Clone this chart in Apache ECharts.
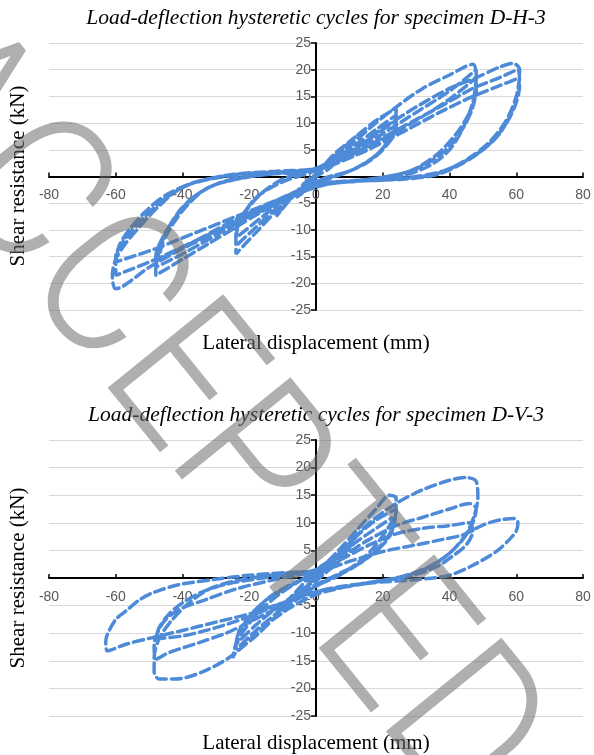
<!DOCTYPE html>
<html>
<head>
<meta charset="utf-8">
<title>Load-deflection hysteretic cycles</title>
<script src="https://cdn.jsdelivr.net/npm/echarts@6.0.0/dist/echarts.min.js"></script>
<style>
  html, body { margin: 0; padding: 0; background: #fff; }
  #chart { width: 594px; height: 755px; }
</style>
</head>
<body>
<div id="chart"></div>
<script>
// 坐标轴范围
const xMin = -80, xMax = 80, xStep = 20;
const yMin = -25, yMax = 25, yStep = 5;

const titleH3 = 'Load-deflection hysteretic cycles for specimen D-H-3';
const titleV3 = 'Load-deflection hysteretic cycles for specimen D-V-3';
const xName = 'Lateral displacement (mm)';
const yName = 'Shear resistance (kN)';

// D-H-3 各级循环 [位移 mm, 荷载 kN]
const dh3Cycle6 = [[0,0],[3,2.5],[6,4],[4,3],[2,1.5],[0,0.5],[-3,-1.5],[-6,-4],[-4,-3],[-2,-1.5],[0,-0.3]];
const dh3Cycle12 = [[3,2.5],[6,4.5],[9,6],[12,7.5],[10,6],[7,3.5],[4,1.5],[0,0],[-4,-2],[-8,-4.5],[-12,-7.5],[-10,-6],[-6,-3],[-3,-1],[0,0.5]];
const dh3Cycle24 = [
  [6,4],[12,7.5],[18,10.5],[24,12.8],[24,10],[21,6],[16,3],[10,1],[4,0],[0,-1],[-6,-3],[-12,-6.5],[-18,-10.5],[-24,-14.5],[-24,-11],[-21,-6.5],[-16,-3],[-10,-0.5],[-4,0.8],[0,1.5],
  [6,3.5],[12,6],[18,8.8],[24,11.5],[24,9],[20,5],[15,2.5],[8,0.5],[0,-1.2],[-6,-3],[-12,-6],[-18,-9.5],[-24,-13],[-24,-10],[-20,-5.5],[-14,-2],[-6,0.5],[0,1.5],
  [8,3.5],[16,7],[24,10.5],[23,8],[18,4],[10,1],[0,-1],[-8,-3.5],[-16,-7.5],[-24,-11.5],[-23,-8.5],[-18,-4],[-10,-1],[0,1.2]
];
const dh3Cycle48 = [
  [8,4.5],[16,9],[24,13],[32,16.5],[40,19],[47,21],[48,19],[47,14],[44,9],[40,5],[34,2],[26,0.2],[16,-0.6],[6,-1.2],[0,-2],[-8,-4],[-16,-6.5],[-24,-9.5],[-32,-12.5],[-40,-15.5],[-48,-18.5],[-48,-15],[-46,-11.5],[-42,-7.5],[-37,-4],[-30,-1.5],[-20,0],[-10,0.8],[0,1.5],
  [10,4],[20,8],[30,12],[40,16],[48,20],[48,17],[47,13],[44,9],[39,5],[32,2],[24,0.3],[12,-0.8],[0,-1.8],[-10,-4.5],[-20,-7.5],[-30,-11],[-40,-14.5],[-48,-17],[-47,-14],[-45,-10.5],[-41,-6.5],[-36,-3.5],[-28,-1],[-16,0.3],[0,1.2],
  [10,3.5],[20,7],[30,10.5],[40,14.5],[48,18.5],[48,16],[46,12],[42,8],[36,4],[28,1],[16,-0.5],[0,-1.5],[-12,-4.5],[-24,-8],[-36,-12],[-47,-15.5],[-46,-12.5],[-43,-9],[-38,-5],[-32,-2],[-22,-0.3],[-10,0.7],[0,1.3]
];
const dh3Cycle60 = [
  [10,4.5],[20,9],[30,13],[40,16.5],[48,18.5],[55,20.5],[59,21.2],[61,20],[60.5,16],[58.5,12],[55,8],[50,5],[44,2.5],[36,0.3],[26,-0.5],[14,-0.8],[0,-1.5],[-10,-4],[-20,-7],[-30,-10.5],[-40,-13.5],[-50,-17],[-60,-21],[-61,-18.5],[-60,-15.5],[-57,-12.5],[-53,-9.5],[-47,-5.5],[-40,-2],[-30,-0.3],[-16,0.6],[0,1.3],
  [12,4.5],[25,9],[37,13],[47,16.5],[55,18.5],[60.5,20],[61,17],[59.5,13],[56,9],[51,5.5],[45,3],[36,0.5],[24,-0.5],[10,-1],[0,-1.8],[-12,-5],[-24,-8.5],[-36,-12],[-48,-15.5],[-60,-18.5],[-60,-15],[-57,-11.5],[-52,-8],[-46,-4.5],[-38,-1.5],[-26,0.3],[-12,1],[0,1.5],
  [12,4],[25,8],[37,12],[47,15],[55,17],[61,18.5],[60,15],[57,10.5],[52,6.5],[46,3.5],[38,1],[26,-0.3],[10,-0.8],[0,-1.5],[-12,-4.5],[-24,-7.5],[-36,-10.5],[-48,-13.5],[-60,-16],[-59,-13],[-56,-10],[-51,-6.5],[-45,-3.5],[-36,-1],[-22,0.5],[0,1]
];

// D-V-3 各级循环
const dv3Cycle6 = [[0,0],[3,2],[6,4],[4,2.5],[2,1],[0,0],[-3,-1.5],[-6,-3.5],[-4,-2.5],[-2,-1],[0,0.2]];
const dv3Cycle12 = [[4,2.5],[8,5],[12,7.5],[10,5.5],[6,2.5],[3,1],[0,-0.5],[-4,-2],[-8,-4],[-12,-6.5],[-10,-5],[-6,-2.5],[-3,-0.5],[0,1]];
const dv3Cycle24 = [
  [6,4.5],[12,8.5],[18,12.5],[22,15],[24,14.5],[24,12],[22,9.5],[18,6],[13,3],[7,0.5],[0,-1.5],[-6,-4],[-12,-7],[-18,-10.5],[-24,-13.5],[-25,-14.5],[-24,-12],[-21,-9],[-16,-5.5],[-10,-2.5],[-4,-0.2],[0,1.5],
  [6,4],[12,7.5],[18,10.5],[24,12.5],[23.5,10],[21,7],[16,4],[10,1.5],[3,-0.5],[0,-1.5],[-6,-3.5],[-12,-6.5],[-18,-9.5],[-24,-13],[-23.5,-10.5],[-20,-7],[-15,-4],[-8,-1.5],[0,1],
  [6,3.5],[12,6.5],[18,9],[23,11],[23,9],[20,6],[14,3],[7,0.8],[0,-1.2],[-6,-3],[-12,-5.5],[-18,-8.5],[-24,-12],[-23,-9.5],[-19,-6.5],[-14,-3.5],[-7,-1],[0,0.8]
];
const dv3Cycle48 = [
  [8,5],[16,10],[24,13.5],[32,16],[40,17.7],[45,18.2],[48,17.5],[48.5,14.5],[47.5,11.5],[45,8],[40,4.5],[33,1.8],[24,0],[14,-1],[6,-2],[0,-3],[-8,-5.5],[-16,-9],[-25,-14],[-34,-17],[-42,-18.3],[-47,-18.3],[-48.5,-17],[-48.5,-14.5],[-47,-11],[-43,-7.5],[-38,-4.5],[-32,-2],[-24,-0.5],[-14,0.5],[-6,1],[0,1.5],
  [8,4],[16,7],[24,9.5],[32,11],[40,12.5],[46,13.5],[48,12.5],[47,10],[44,7],[40,4.5],[34,2],[26,0.3],[16,-0.8],[6,-1.8],[0,-2.5],[-10,-5],[-20,-8],[-27,-10],[-35,-11.7],[-44,-13.5],[-48,-14.7],[-48.5,-12],[-47,-9.3],[-45,-7.5],[-41,-5.7],[-33,-3.9],[-24,-2],[-14,-0.5],[-6,0.5],[0,1],
  [8,3.5],[16,6],[24,8],[32,9],[40,9.5],[46,10],[47,8.5],[45,6],[41,4],[36,2],[29,0.5],[20,-0.5],[10,-1.5],[0,-2.5],[-10,-4.5],[-20,-7],[-30,-9],[-40,-10.5],[-48,-11],[-47,-9],[-44,-6.5],[-40,-4.5],[-34,-2.5],[-26,-1],[-16,0],[-6,0.8],[0,1]
];
const dv3Cycle60 = [
  [10,3],[20,4.8],[30,6],[38,7],[44,7.8],[50,9.6],[55,10.5],[59.5,10.8],[60.5,10],[60,8.5],[58,7],[54,4.8],[47,2.3],[40,0.5],[30,-0.3],[18,-0.8],[8,-1.5],[0,-2.5],[-10,-4.5],[-20,-6.5],[-30,-8],[-40,-9.5],[-49,-10.8],[-57,-12],[-62.5,-13.2],[-63,-11.5],[-62.5,-10.2],[-60,-7.5],[-57,-6],[-53,-4],[-49,-2.7],[-41,-1.2],[-31,-0.3],[-20,0.5],[-8,1],[0,1.2]
];

const dh3Path = [].concat(dh3Cycle6, dh3Cycle12, dh3Cycle24, dh3Cycle48, dh3Cycle60);
const dv3Path = [].concat(dv3Cycle6, dv3Cycle12, dv3Cycle24, dv3Cycle48, dv3Cycle60);

const chart = echarts.init(document.getElementById('chart'));

const gridW = 534;
const gridH = [267, 276];
const labelStyle = { fontFamily: '"Liberation Sans", Arial', fontSize: 14, color: '#595959' };

// 把坐标轴平移到零点（含刻度标签）
function makeXAxis(gridIndex) {
  return {
    type: 'value', gridIndex: gridIndex, min: xMin, max: xMax, interval: xStep,
    position: 'bottom', offset: -gridH[gridIndex] / 2,
    axisLine: { onZero: false, lineStyle: { color: '#000', width: 2 } },
    axisTick: { show: true, inside: true, length: 4, lineStyle: { color: '#000', width: 1.5 } },
    axisLabel: Object.assign({ margin: 12 }, labelStyle),
    splitLine: { show: false }
  };
}
function makeYAxis(gridIndex) {
  return {
    type: 'value', gridIndex: gridIndex, min: yMin, max: yMax, interval: yStep,
    position: 'left', offset: -gridW / 2,
    axisLine: { onZero: false, lineStyle: { color: '#000', width: 2 } },
    axisTick: { show: true, length: 5, lineStyle: { color: '#000', width: 1.5 } },
    axisLabel: Object.assign({ margin: 5 }, labelStyle),
    splitLine: { show: true, lineStyle: { color: '#d9d9d9', width: 1 } }
  };
}
function makeSeries(index, data) {
  return {
    type: 'line', xAxisIndex: index, yAxisIndex: index, data: data,
    showSymbol: false, smooth: 0.3, silent: true,
    lineStyle: { color: '#4d8ad8', width: 3.5, type: [10, 5], cap: 'round' }
  };
}

const serif = '"Liberation Serif", "Times New Roman", serif';

const option = {
  animation: false,
  grid: [
    { left: 49, top: 43, width: gridW, height: gridH[0] },
    { left: 49, top: 440, width: gridW, height: gridH[1] }
  ],
  xAxis: [makeXAxis(0), makeXAxis(1)],
  yAxis: [makeYAxis(0), makeYAxis(1)],
  series: [makeSeries(0, dh3Path), makeSeries(1, dv3Path)],
  graphic: [
    { type: 'text', x: 316, y: 18, style: { text: titleH3, font: 'italic 21.5px ' + serif, fill: '#000', align: 'center', verticalAlign: 'middle' } },
    { type: 'text', x: 316, y: 415, style: { text: titleV3, font: 'italic 21.5px ' + serif, fill: '#000', align: 'center', verticalAlign: 'middle' } },
    { type: 'text', x: 316, y: 343, style: { text: xName, font: '21px ' + serif, fill: '#000', align: 'center', verticalAlign: 'middle' } },
    { type: 'text', x: 316, y: 743, style: { text: xName, font: '21px ' + serif, fill: '#000', align: 'center', verticalAlign: 'middle' } },
    { type: 'text', x: 18, y: 176, rotation: Math.PI / 2, style: { text: yName, font: '21px ' + serif, fill: '#000', align: 'center', verticalAlign: 'middle' } },
    { type: 'text', x: 18, y: 578, rotation: Math.PI / 2, style: { text: yName, font: '21px ' + serif, fill: '#000', align: 'center', verticalAlign: 'middle' } },
    // 水印
    { type: 'text', x: 202, y: 421, rotation: -51 * Math.PI / 180, scaleX: 0.9, z: 100, silent: true,
      style: { text: 'ACCEPTED', font: '300 209px Roboto, Lato, "Liberation Sans", sans-serif', fill: 'rgba(110,110,110,0.55)', align: 'center', verticalAlign: 'middle' } }
  ]
};

chart.setOption(option);
</script>
</body>
</html>
